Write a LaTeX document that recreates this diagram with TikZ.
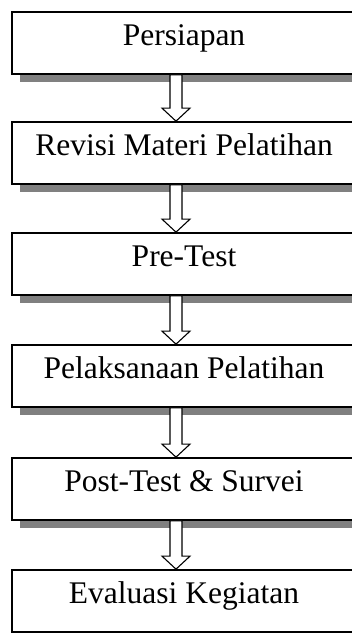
\documentclass[tikz,border=0pt]{standalone}
\usepackage{fontspec}
\setmainfont{Liberation Serif}
\usetikzlibrary{calc, shadows}
\definecolor{shadowgray}{RGB}{128, 128, 128}

\tikzset{
  stepbox/.style={draw=black, line width=1.7pt, fill=white,
    minimum width=344pt, minimum height=62pt, inner sep=0pt,
    text height=22pt, text depth=18pt,
    font=\fontsize{31.5}{36}\selectfont,
    drop shadow={shadow xshift=8pt, shadow yshift=-8pt,
      fill=shadowgray, opacity=1}},
  hollowarrow/.style={draw=black, line width=1.1pt, fill=white, line join=miter}
}

\newcommand{\flowarrow}[2]{%
  \draw[hollowarrow] let \p1=($(#1.south)+(-8pt,0)$), \p2=($(#2.north)+(-8pt,0)$) in
    (\x1-6pt,\y1) -- (\x1-6pt,\y2+13pt) -- (\x1-14pt,\y2+13pt) -- (\x1,\y2)
    -- (\x1+14pt,\y2+13pt) -- (\x1+6pt,\y2+13pt) -- (\x1+6pt,\y1) -- cycle;}

\begin{document}
\begin{tikzpicture}[x=1pt, y=-1pt]
    \useasboundingbox (0,0) rectangle (352,633);

    \node[stepbox] (persiapan) at (184,43)  {Persiapan};
    \node[stepbox] (revisi)    at (184,153) {Revisi Materi Pelatihan};
    \node[stepbox] (pretest)   at (184,264) {Pre-Test};
    \node[stepbox] (pelaksana) at (184,376) {Pelaksanaan Pelatihan};
    \node[stepbox] (posttest)  at (184,489) {Post-Test \& Survei};
    \node[stepbox] (evaluasi)  at (184,601) {Evaluasi Kegiatan};

    \flowarrow{persiapan}{revisi}
    \flowarrow{revisi}{pretest}
    \flowarrow{pretest}{pelaksana}
    \flowarrow{pelaksana}{posttest}
    \flowarrow{posttest}{evaluasi}
\end{tikzpicture}
\end{document}
